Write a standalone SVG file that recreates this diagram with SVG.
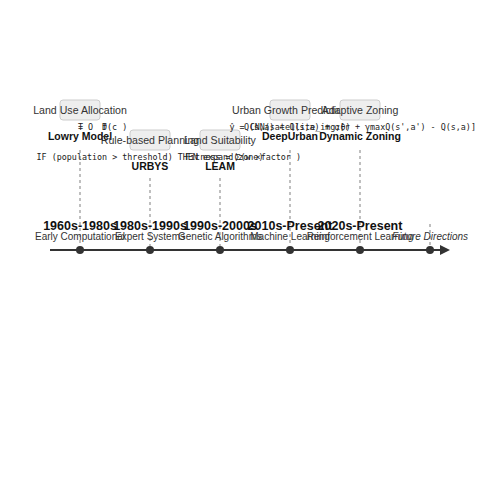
<svg xmlns="http://www.w3.org/2000/svg" width="500" height="500" viewBox="0 0 500 500">
<style>
.box{fill:#eeeeee;stroke:#cccccc;stroke-width:1}
.cat{font-family:"Liberation Sans",Arial,sans-serif;font-size:10.6px;fill:#333;text-anchor:middle}
.model{font-family:"Liberation Sans",Arial,sans-serif;font-size:10.5px;font-weight:bold;fill:#111;text-anchor:middle}
.f{font-family:"DejaVu Sans Mono","Liberation Mono",monospace;font-size:8.4px;fill:#222}
.era{font-family:"Liberation Sans",Arial,sans-serif;font-size:12.5px;font-weight:bold;fill:#111;text-anchor:middle}
.sub{font-family:"Liberation Sans",Arial,sans-serif;font-size:10px;fill:#333;text-anchor:middle}
.dash{stroke:#aaaaaa;stroke-width:1.5;stroke-dasharray:3,3}
.dot{fill:#333}
</style>
<defs>
<marker id="arr" markerWidth="10" markerHeight="10" refX="0" refY="5" orient="auto" markerUnits="userSpaceOnUse">
<path d="M0,0 L10,5 L0,10 Z" fill="#333"/>
</marker>
</defs>
<g id="connectors">
<line x1="50" y1="250" x2="440" y2="250" stroke="#333" stroke-width="2" marker-end="url(#arr)"/>
<line class="dash" x1="80" y1="150" x2="80" y2="246"/>
<line class="dash" x1="150" y1="178" x2="150" y2="246"/>
<line class="dash" x1="220" y1="178" x2="220" y2="246"/>
<line class="dash" x1="290" y1="150" x2="290" y2="246"/>
<line class="dash" x1="360" y1="150" x2="360" y2="246"/>
<line class="dash" x1="430" y1="224" x2="430" y2="246"/>
</g>
<g id="era1">
<circle class="dot" cx="80" cy="250" r="4"/>
<text class="era" x="80" y="230">1960s-1980s</text>
<text class="sub" x="80" y="240">Early Computational</text>
</g>
<g id="era2">
<circle class="dot" cx="150" cy="250" r="4"/>
<text class="era" x="150" y="230">1980s-1990s</text>
<text class="sub" x="150" y="240">Expert Systems</text>
</g>
<g id="era3">
<circle class="dot" cx="220" cy="250" r="4"/>
<text class="era" x="220" y="230">1990s-2000s</text>
<text class="sub" x="220" y="240">Genetic Algorithms</text>
</g>
<g id="era4">
<circle class="dot" cx="290" cy="250" r="4"/>
<text class="era" x="290" y="230">2010s-Present</text>
<text class="sub" x="290" y="240">Machine Learning</text>
</g>
<g id="era5">
<circle class="dot" cx="360" cy="250" r="4"/>
<text class="era" x="360" y="230">2020s-Present</text>
<text class="sub" x="360" y="240">Reinforcement Learning</text>
</g>
<g id="era6">
<circle class="dot" cx="430" cy="250" r="4"/>
<text class="sub" x="430" y="240" font-style="italic">Future Directions</text>
</g>
<g id="lowry">
<rect class="box" x="60" y="100" width="40" height="20" rx="3"/>
<text class="cat" x="80" y="114">Land Use Allocation</text>
<text class="f" x="78" y="130">T</text>
<text class="f" x="78" y="130">=</text>
<text class="f" x="88" y="130">O</text>
<text class="f" x="102" y="130">D</text>
<text class="f" x="102" y="130">f(c )</text>
<text class="model" x="80" y="140">Lowry Model</text>
</g>
<g id="urbys">
<rect class="box" x="130" y="130" width="40" height="20" rx="3"/>
<text class="cat" x="150" y="144">Rule-based Planning</text>
<text class="f" x="150" y="160" text-anchor="middle">IF (population &gt; threshold) THEN expand(zone)</text>
<text class="model" x="150" y="170">URBYS</text>
</g>
<g id="leam">
<rect class="box" x="200" y="130" width="40" height="20" rx="3"/>
<text class="cat" x="220" y="144">Land Suitability</text>
<text class="f" x="185" y="160">Fitness = Σ(w ×factor    )</text>
<text class="model" x="220" y="170">LEAM</text>
</g>
<g id="deepurban">
<rect class="box" x="270" y="100" width="40" height="20" rx="3"/>
<text class="cat" x="290" y="114">Urban Growth Prediction</text>
<text class="f" x="290" y="130" text-anchor="middle">ŷ = CNN(satellite_img;θ)</text>
<text class="model" x="290" y="140">DeepUrban</text>
</g>
<g id="dynamic">
<rect class="box" x="340" y="100" width="40" height="20" rx="3"/>
<text class="cat" x="360" y="114">Adaptive Zoning</text>
<text class="f" x="360" y="130" text-anchor="middle">Q(s,a) ← Q(s,a) + α[r + γmaxQ(s',a') - Q(s,a)]</text>
<text class="model" x="360" y="140">Dynamic Zoning</text>
</g>
</svg>
